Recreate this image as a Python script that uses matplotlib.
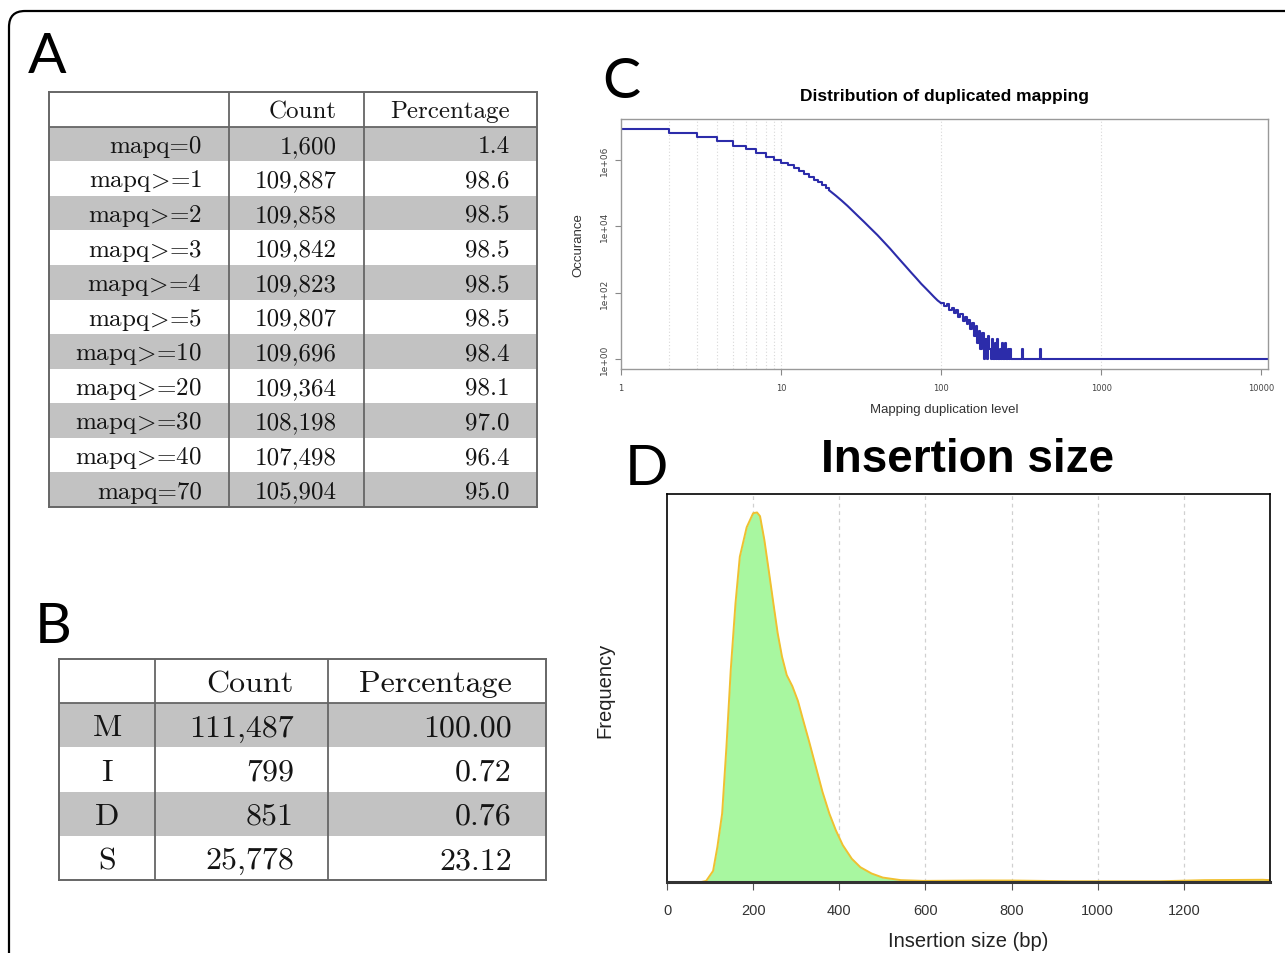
import numpy as np
import matplotlib
matplotlib.use("Agg")
import matplotlib.pyplot as plt
import matplotlib.transforms as mtransforms
from matplotlib.patches import FancyBboxPatch

plt.rcParams["mathtext.fontset"] = "cm"

W, H = 1285, 954

# A: reads by mapping quality
mapq_labels = ["mapq=0", "mapq>=1", "mapq>=2", "mapq>=3", "mapq>=4", "mapq>=5",
               "mapq>=10", "mapq>=20", "mapq>=30", "mapq>=40", "mapq=70"]
mapq_counts = [1600, 109887, 109858, 109842, 109823, 109807,
               109696, 109364, 108198, 107498, 105904]
mapq_pct = [1.4, 98.6, 98.5, 98.5, 98.5, 98.5, 98.4, 98.1, 97.0, 96.4, 95.0]

# B: CIGAR operations
cigar_ops = ["M", "I", "D", "S"]
cigar_counts = [111487, 799, 851, 25778]
cigar_pct = [100.00, 0.72, 0.76, 23.12]

# C: duplication level vs occurrence
dup_level = [1, 2, 3, 4, 5, 6, 7, 8, 9, 10,
             11, 12, 13, 14, 15, 16, 17, 18, 19, 20,
             22, 24, 26, 28, 30, 33, 36, 40, 44, 48,
             52, 56, 60, 65, 70, 75, 80, 85, 90, 95,
             100, 104, 108, 112, 116, 120, 124, 128, 132, 136,
             140, 144, 148, 152, 156, 160, 164, 168, 172, 176,
             180, 184, 188, 192, 196, 200, 204, 208, 212, 216,
             220, 224, 228, 232, 236, 240, 244, 250, 254, 260,
             264, 270, 274, 320, 324, 415, 420, 11000]
dup_count = [8.7e6, 6.5e6, 4.8e6, 3.6e6, 2.7e6, 2.05e6, 1.6e6, 1.25e6, 1.02e6, 8.3e5,
             6.8e5, 5.6e5, 4.6e5, 3.8e5, 3.1e5, 2.55e5, 2.1e5, 1.75e5, 1.45e5, 1.2e5,
             8.3e4, 5.8e4, 4.1e4, 2.9e4, 2.1e4, 1.35e4, 8.9e3, 5.4e3, 3.3e3, 2.1e3,
             1350, 900, 620, 400, 270, 185, 135, 100, 75, 58,
             48, 40, 44, 31, 34, 24, 29, 19, 23, 14,
             19, 11, 15, 8, 12, 5, 10, 3, 7, 2,
             6, 1, 4, 1, 5, 2, 1, 4, 1, 3,
             1, 4, 1, 2, 1, 3, 1, 3, 1, 2,
             1, 2, 1, 2, 1, 2, 1, 1]

# D: insertion size density (relative)
ins_size = [0, 80, 91, 107, 117, 128, 138, 148, 159, 169, 185, 200, 209, 216, 226,
            236, 247, 257, 267, 278, 291, 304, 314, 330, 346, 361, 377, 392, 408,
            429, 449, 475, 501, 543, 595, 730, 800, 937, 1145, 1248, 1383, 1400]
ins_density = [0, 0, 0.003, 0.03, 0.095, 0.185, 0.366, 0.574, 0.754, 0.88, 0.96, 0.998,
               1.0, 0.99, 0.926, 0.845, 0.754, 0.673, 0.61, 0.56, 0.53, 0.49, 0.447,
               0.38, 0.31, 0.244, 0.185, 0.14, 0.10, 0.063, 0.04, 0.023, 0.012,
               0.005, 0.003, 0.004, 0.004, 0.002, 0.002, 0.005, 0.006, 0.005]

fig = plt.figure(figsize=(W / 100, H / 100), dpi=100)


def px_axes(left, top, right, bottom):
    return fig.add_axes([left / W, 1 - bottom / H, (right - left) / W, (bottom - top) / H])


def fig_text(x, y, s, **kw):
    return fig.text(x / W, 1 - y / H, s, **kw)


def draw_table(box, col_edges, labels, counts, pcts, pct_fmt, fs, label_center, pad):
    l, t, r, b = box
    ax = px_axes(l, t, r, b)
    n = len(labels)
    ax.set_xlim(l, r)
    ax.set_ylim(n + 1, 0)
    ax.set_xticks([])
    ax.set_yticks([])
    for sp in ax.spines.values():
        sp.set_color("#666666")
        sp.set_linewidth(1.4)
    for i in range(0, n, 2):
        ax.axhspan(i + 1, i + 2, color="#c2c2c2", lw=0, zorder=0)
    ax.axhline(1, color="#666666", lw=1.3)
    ax.vlines(col_edges[1:-1], 0, n + 1, color="#666666", lw=1.3)
    txt = dict(fontsize=fs, family="cmr10", va="baseline", color="#141414")
    off = 0.23
    ax.text(col_edges[2] - pad, 0.5 + off, "Count", ha="right", **txt)
    ax.text(col_edges[3] - pad, 0.5 + off, "Percentage", ha="right", **txt)
    for i, (lab, c, p) in enumerate(zip(labels, counts, pcts)):
        y = i + 1.5 + off
        lab = lab.replace(">", r"$\!>\!$")
        if label_center:
            ax.text((col_edges[0] + col_edges[1]) / 2, y, lab, ha="center", **txt)
        else:
            ax.text(col_edges[1] - pad, y, lab, ha="right", **txt)
        ax.text(col_edges[2] - pad, y, f"{c:,}", ha="right", **txt)
        ax.text(col_edges[3] - pad, y, pct_fmt.format(p), ha="right", **txt)
    return ax


# tables
draw_table((49, 93, 537, 508), [49, 229, 364, 537], mapq_labels, mapq_counts,
           mapq_pct, "{:.1f}", 18, False, 27)
draw_table((59, 660, 546, 881), [59, 155, 328, 546], cigar_ops, cigar_counts,
           cigar_pct, "{:.2f}", 23, True, 34)

# C: duplicated mapping
axc = px_axes(621, 120, 1268, 370)
for v in [2, 3, 4, 5, 6, 7, 8, 9, 10, 100, 1000]:
    axc.axvline(v, color="#d8d8d8", ls=(0, (1, 2)), lw=0.8, zorder=0)
lv = np.array(dup_level, dtype=float)
ct = np.array(dup_count, dtype=float)
i20 = dup_level.index(20)
i100 = dup_level.index(100)
line_kw = dict(color="#2c2caa", lw=1.5)
# single-level steps at the low end, sampled levels in the middle, noisy tail as steps
axc.step(lv[:i20 + 1], ct[:i20 + 1], where="post", **line_kw)
axc.plot(lv[i20:i100 + 1], ct[i20:i100 + 1], **line_kw)
axc.step(lv[i100:], ct[i100:], where="post", **line_kw)
axc.set_xscale("log")
axc.set_yscale("log")
axc.set_xlim(1, 11000)
axc.set_ylim(0.5, 1.7e7)
axc.set_xticks([1, 10, 100, 1000, 10000], ["1", "10", "100", "1000", "10000"])
axc.set_yticks([1, 1e2, 1e4, 1e6], ["1e+00", "1e+02", "1e+04", "1e+06"])
axc.minorticks_off()
axc.tick_params(axis="x", labelsize=6, length=4, pad=6, color="#888888", labelcolor="#444444")
axc.tick_params(axis="y", labelsize=6.5, length=4, pad=5, color="#888888", labelcolor="#444444",
                labelrotation=90)
for lab in axc.get_yticklabels():
    lab.set_va("center")
for sp in axc.spines.values():
    sp.set_color("#999999")
    sp.set_linewidth(1.0)
fig_text(944, 97, "Distribution of duplicated mapping", fontsize=12.5, family="Liberation Sans",
         weight="bold", ha="center", va="center")
fig_text(944, 410, "Mapping duplication level", fontsize=9.5, family="Liberation Sans",
         ha="center", va="center", color="#333333")
fig_text(578, 245, "Occurance", fontsize=9.5, family="Liberation Sans", rotation=90,
         ha="center", va="center", color="#333333")

# D: insertion size
axd = px_axes(667, 495, 1270, 883)
for v in [200, 400, 600, 800, 1000, 1200]:
    axd.axvline(v, color="#d0d0d0", ls=(0, (3, 3)), lw=0.9, zorder=0)
axd.fill_between(ins_size, ins_density, color="#a8f7a0", lw=0, zorder=1)
axd.plot(ins_size, ins_density, color="#f0c030", lw=1.4, zorder=2)
axd.set_xlim(0, 1400)
axd.set_ylim(0, 1.05)
axd.set_xticks(range(0, 1400, 200))
axd.set_yticks([])
axd.tick_params(axis="x", labelsize=10.5, length=6, pad=9, color="#555555", labelcolor="#333333")
for lab in axd.get_xticklabels():
    lab.set_family("Liberation Sans")
for sp in axd.spines.values():
    sp.set_color("black")
    sp.set_linewidth(1.2)
axd.spines["bottom"].set_linewidth(2.2)
axd.spines["bottom"].set_color("#333333")
fig_text(968, 460, "Insertion size", fontsize=33, family="Liberation Sans", weight="bold",
         ha="center", va="center")
fig_text(968, 942, "Insertion size (bp)", fontsize=14.5, family="Liberation Sans",
         ha="center", va="center", color="#222222")
fig_text(605, 690, "Frequency", fontsize=14.5, family="Liberation Sans", rotation=90,
         ha="center", va="center", color="#222222")

# panel letters
for x, y, s in [(28, 73, "A"), (35, 643, "B"), (602, 98, "C"), (625, 485, "D")]:
    fig_text(x, y, s, fontsize=41, family="Lato", va="baseline", ha="left")

# outer frame
frame = FancyBboxPatch((9, -30), 1320, H - 12 + 30, boxstyle="round,pad=0,rounding_size=16",
                       transform=mtransforms.IdentityTransform(), fill=False,
                       ec="black", lw=1.6)
fig.add_artist(frame)

fig.savefig("out.png", dpi=100)
